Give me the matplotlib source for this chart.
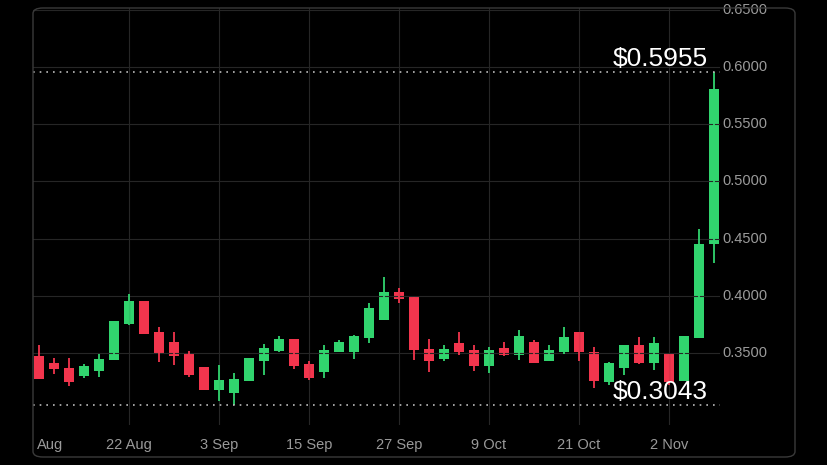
import matplotlib
matplotlib.use("Agg")
import matplotlib.pyplot as plt
from matplotlib.patches import FancyBboxPatch

plt.rcParams['font.family'] = ['Liberation Sans', 'DejaVu Sans']

opens  = [.3474,.3413,.3369,.3299,.3343,.3439,.3754,.3955,.3684,.3596,.3491,.3378,.3176,.3150,.3255,.3430,.3518,.3623,.3404,.3334,.3509,.3509,.3631,.3789,.4034,.3990,.3535,.3448,.3588,.3526,.3386,.3544,.3483,.3596,.3430,.3509,.3684,.3509,.3246,.3369,.3570,.3413,.3491,.3255,.3631,.4454]
highs  = [.3570,.3456,.3456,.3404,.3491,.3780,.4016,.3955,.3728,.3684,.3518,.3378,.3395,.3325,.3456,.3579,.3649,.3623,.3430,.3570,.3614,.3658,.3938,.4165,.4069,.3990,.3623,.3570,.3684,.3570,.3553,.3596,.3701,.3614,.3570,.3728,.3684,.3553,.3421,.3570,.3640,.3640,.3491,.3649,.4585,.5955]
lows   = [.3273,.3316,.3211,.3281,.3290,.3439,.3745,.3666,.3421,.3395,.3290,.3176,.3080,.3045,.3255,.3308,.3509,.3360,.3264,.3281,.3509,.3448,.3588,.3789,.3938,.3439,.3334,.3430,.3483,.3343,.3325,.3474,.3439,.3413,.3430,.3491,.3430,.3194,.3220,.3308,.3404,.3351,.3220,.3255,.3631,.4288]
closes = [.3273,.3360,.3246,.3386,.3448,.3780,.3955,.3666,.3500,.3474,.3308,.3176,.3264,.3273,.3456,.3544,.3623,.3386,.3281,.3526,.3596,.3649,.3894,.4034,.3973,.3526,.3430,.3535,.3509,.3386,.3526,.3483,.3649,.3413,.3526,.3640,.3509,.3255,.3413,.3570,.3413,.3588,.3246,.3649,.4454,.5810]
tick_idx = [6, 12, 18, 24, 30, 36, 42]
tick_labels = ["22 Aug", "3 Sep", "15 Sep", "27 Sep", "9 Oct", "21 Oct", "2 Nov"]
first_label = "Aug"
y_ticks = [0.35, 0.40, 0.45, 0.50, 0.55, 0.60, 0.65]
max_price, min_price = 0.5955, 0.3043

GREEN, RED = "#31d46e", "#f2354d"
fig = plt.figure(figsize=(8.28, 4.65), dpi=100, facecolor="black")
fig.patches.append(FancyBboxPatch((33/828, 8/465), 762/828, 449/465, boxstyle="round,pad=0,rounding_size=0.012",
                                  transform=fig.transFigure, fill=False, edgecolor="#3a3a3a", lw=1))
ax = fig.add_axes([33/828, 40/465, 687/828, 417/465])
ax.set_facecolor("black")
for i, (o, h, l, c) in enumerate(zip(opens, highs, lows, closes)):
    col = GREEN if c >= o else RED
    ax.vlines(i, l, h, color=col, lw=1.3)
    ax.bar(i, abs(c - o) or 0.0005, bottom=min(o, c), width=0.62, color=col)
ax.set_xlim(-0.4, 45.4)
ax.set_ylim(0.2871, 0.6516)
for s in ax.spines.values():
    s.set_visible(False)
ax.set_yticks(y_ticks)
ax.set_xticks(tick_idx)
ax.grid(True, color="#262626", lw=0.8)
ax.tick_params(length=0, labelleft=False, labelbottom=False)
for y in y_ticks:
    ax.text(1.003, y, f"{y:.4f}", transform=ax.get_yaxis_transform(), color="#9a9a9a", fontsize=10.5, va="center", ha="left")
for i, t in zip(tick_idx, tick_labels):
    ax.text(i, -0.03, t, transform=ax.get_xaxis_transform(), color="#9a9a9a", fontsize=10.5, va="top", ha="center")
ax.text(-0.15, -0.03, first_label, transform=ax.get_xaxis_transform(), color="#9a9a9a", fontsize=10.5, va="top", ha="left")
for p in (max_price, min_price):
    ax.axhline(p, color="#bbbbbb", lw=1.2, ls=(0, (1, 3)))
ax.text(44.6, max_price + 0.001, f"${max_price:.4f}", color="white", fontsize=19, ha="right", va="bottom")
ax.text(44.6, min_price + 0.001, f"${min_price:.4f}", color="white", fontsize=19, ha="right", va="bottom")
fig.savefig("out.png", dpi=100, facecolor="black")
